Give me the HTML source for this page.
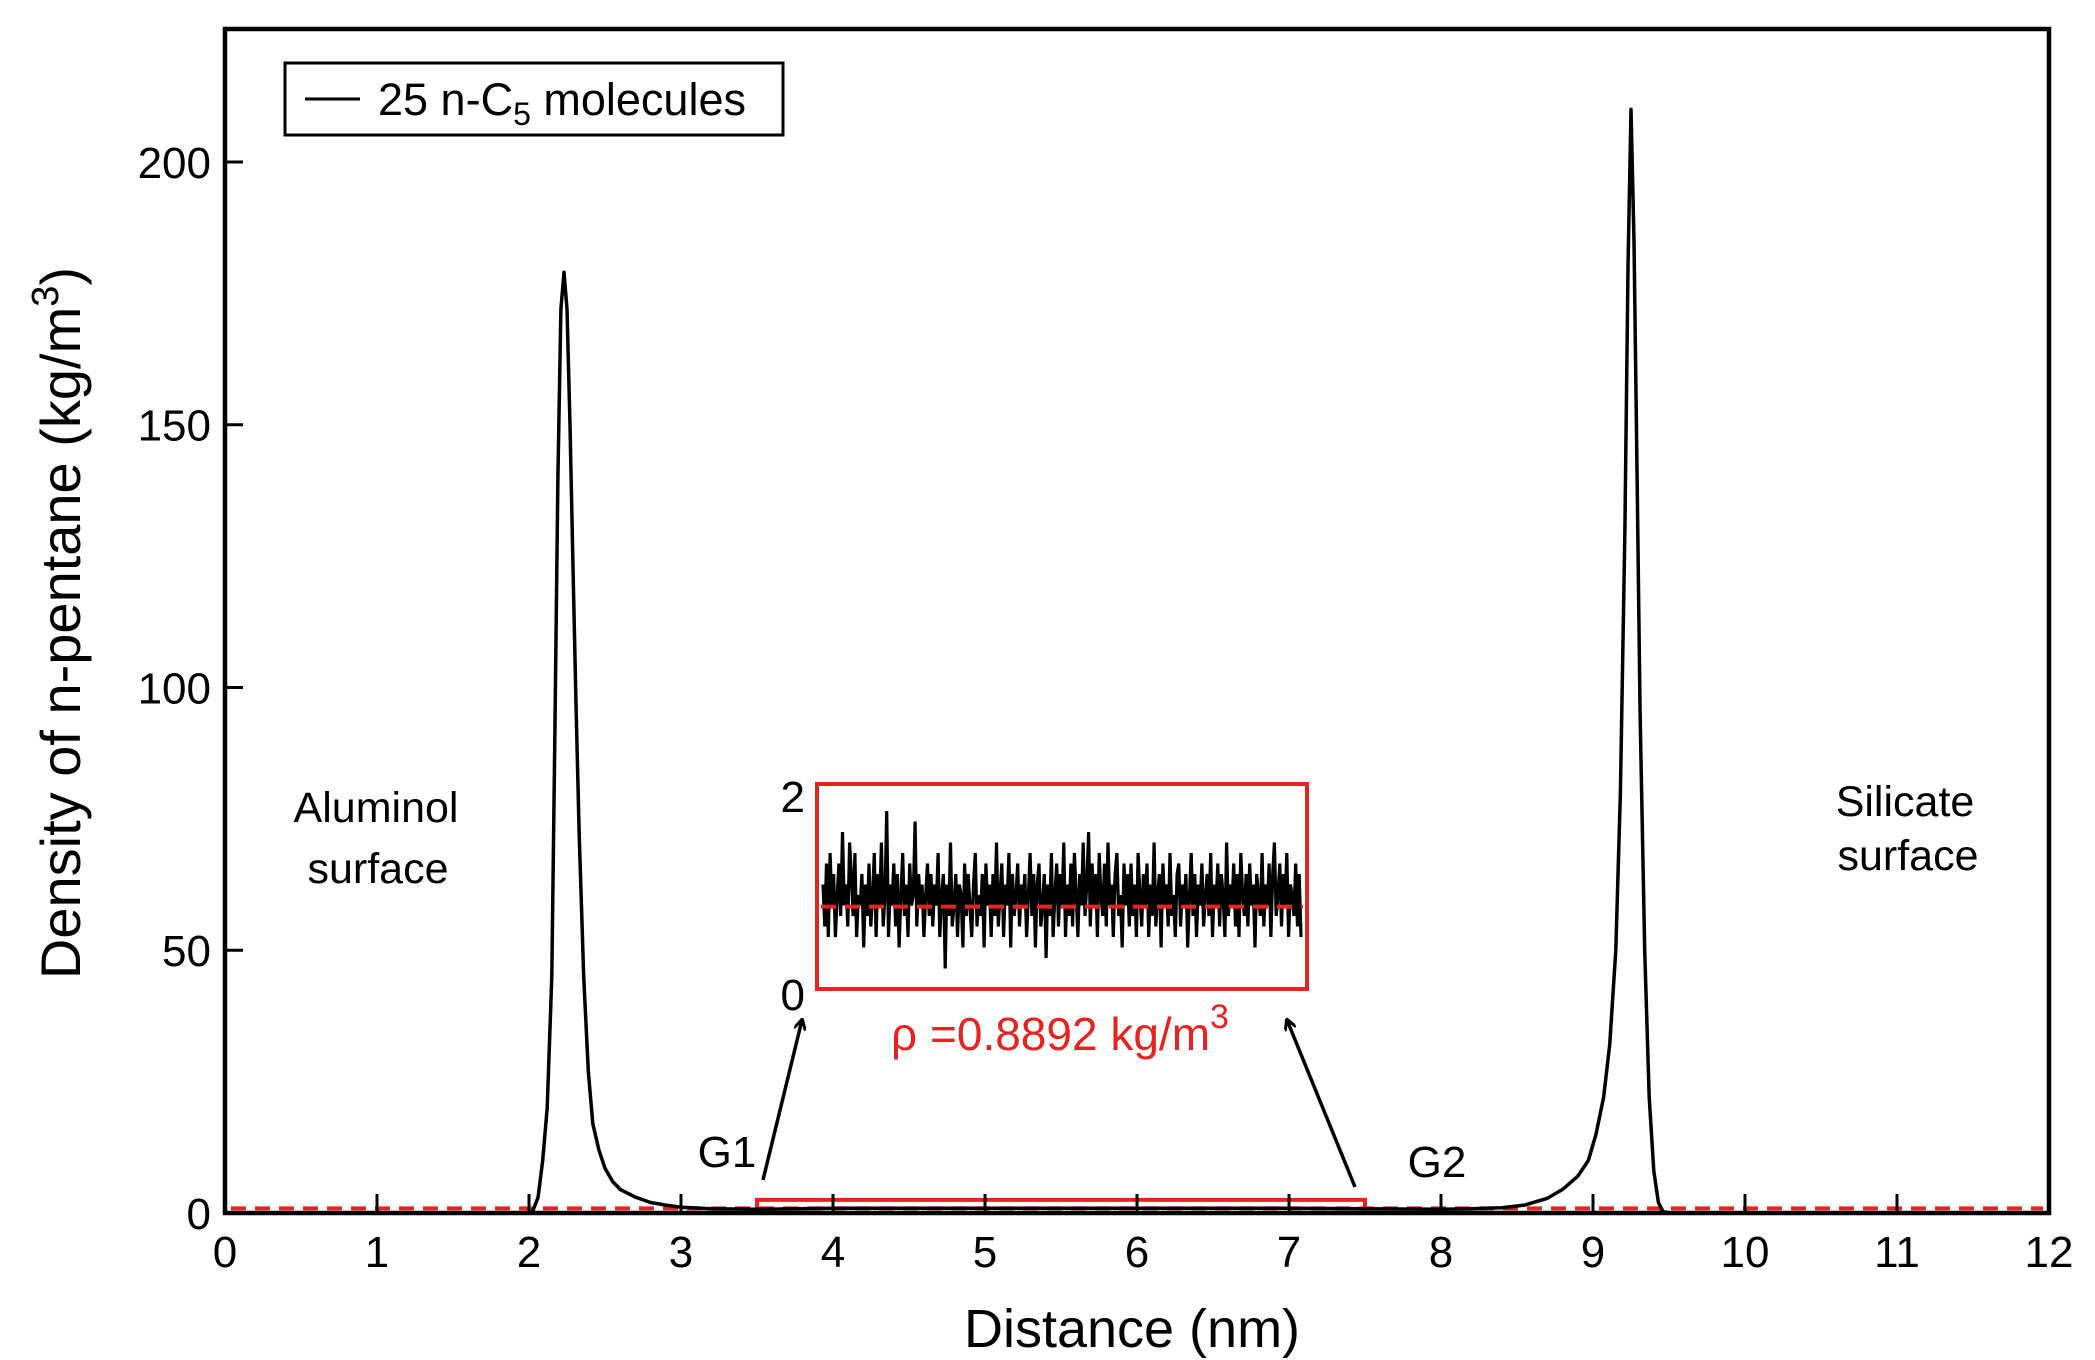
<!DOCTYPE html>
<html><head><meta charset="utf-8"><style>
html,body{margin:0;padding:0;background:#fff;}
svg{display:block;font-family:"Liberation Sans",sans-serif;}
</style></head><body>
<svg id="chart" width="2095" height="1360" viewBox="0 0 2095 1360" xmlns="http://www.w3.org/2000/svg">
<g id="marks"></g>
<g id="axes"></g>
<text x="1132" y="1347" font-size="54" text-anchor="middle">Distance (nm)</text>
<text transform="translate(80,623) rotate(-90)" font-size="56" text-anchor="middle">Density  of n-pentane (kg/m<tspan dy="-22" font-size="38">3</tspan><tspan dy="22">)</tspan></text>
<g>
<rect x="285" y="63" width="498" height="72" fill="#fff" stroke="#000" stroke-width="3"/>
<line x1="305" y1="99" x2="360" y2="99" stroke="#000" stroke-width="3"/>
<text x="378" y="115" font-size="45">25 n-C<tspan dy="10" font-size="32">5</tspan><tspan dy="-10"> molecules</tspan></text>
</g>
<text x="376" y="822" font-size="43" text-anchor="middle">Aluminol</text>
<text x="378" y="883" font-size="43" text-anchor="middle">surface</text>
<text x="1905" y="816" font-size="43" text-anchor="middle">Silicate</text>
<text x="1908" y="870" font-size="43" text-anchor="middle">surface</text>
<text x="727" y="1167" font-size="44" text-anchor="middle">G1</text>
<text x="1437" y="1177" font-size="44" text-anchor="middle">G2</text>
<defs><marker id="ah" markerWidth="12" markerHeight="12" refX="10" refY="6" orient="auto" markerUnits="userSpaceOnUse"><path d="M0,0 L11,6 L0,12" fill="none" stroke="#000" stroke-width="3"/></marker></defs>
<line x1="763" y1="1180" x2="802" y2="1020" stroke="#000" stroke-width="3.5" marker-end="url(#ah)"/>
<line x1="1355" y1="1187" x2="1287" y2="1020" stroke="#000" stroke-width="3.5" marker-end="url(#ah)"/>
<text x="1060" y="1050" font-size="46" fill="#e52320" text-anchor="middle">ρ =0.8892 kg/m<tspan dy="-22" font-size="34">3</tspan></text>
<g id="inset"></g>
</svg>
<script>
const xTicks=[0,1,2,3,4,5,6,7,8,9,10,11,12];
const yTicks=[0,50,100,150,200];
const profileX=[0,2.02,2.06,2.09,2.12,2.15,2.17,2.19,2.21,2.23,2.25,2.27,2.29,2.31,2.33,2.36,2.39,2.42,2.46,2.5,2.55,2.6,2.7,2.8,2.9,3.0,3.2,3.5,4,5,6,7,7.5,8,8.2,8.4,8.55,8.7,8.8,8.9,8.97,9.02,9.07,9.11,9.15,9.18,9.21,9.23,9.25,9.27,9.29,9.31,9.34,9.37,9.4,9.43,9.46,9.5,10,12];
const profileY=[0,0,3,10,20,45,90,140,172,179,172,150,122,96,72,45,27,17,12,8.5,6,4.5,3,2,1.5,1.1,0.8,0.7,0.9,0.9,0.9,0.9,0.8,0.7,0.8,1.0,1.5,2.8,4.5,7,10,15,22,32,50,80,130,180,210,185,140,95,50,22,8,2,0.3,0,0,0];
const meanDensity=0.8892;
const gapStart=3.5, gapEnd=7.5;
const insetTicks=[0,2];
const insetNoise=[1.1,0.7,1.3,0.6,1.4,0.9,1.2,0.6,1.0,1.3,0.8,1.6,0.9,1.1,0.7,1.5,1.2,0.8,1.4,0.6,1.0,0.9,1.2,0.5,1.1,0.8,1.3,0.7,1.0,1.4,0.6,1.2,0.9,1.5,0.7,1.0,1.8,0.6,1.1,0.9,1.3,0.7,1.2,0.5,1.0,1.4,0.8,1.1,0.6,1.3,0.9,1.0,1.7,0.7,1.2,0.9,1.1,0.6,1.0,1.3,0.8,1.2,0.7,1.1,0.9,1.4,0.6,1.0,1.2,0.3,1.1,0.8,1.5,0.7,0.9,1.2,0.6,1.1,1.0,0.5,1.3,0.8,1.2,0.9,0.6,1.1,1.4,0.7,1.0,0.8,1.2,0.5,1.3,0.9,1.1,0.6,1.2,0.8,1.5,0.7,1.0,1.3,0.6,1.1,0.9,1.4,0.5,1.2,0.8,1.0,1.3,0.7,1.1,0.9,1.2,0.6,1.0,1.4,0.8,1.2,0.5,1.1,1.3,0.7,0.9,1.2,0.4,1.1,0.8,1.4,0.6,1.0,1.3,0.7,1.2,0.9,1.5,0.6,1.1,0.8,1.3,0.7,1.4,1.0,0.6,1.2,0.9,1.5,0.8,1.1,1.6,0.7,1.3,0.9,1.2,0.6,1.4,1.0,0.8,1.3,0.7,1.5,0.9,1.1,0.6,1.2,1.4,0.8,1.0,0.5,1.3,
0.9,1.2,0.7,1.3,0.8,1.1,0.6,1.4,1.0,0.7,1.2,0.9,1.3,0.6,1.1,0.8,1.5,0.7,1.0,1.2,0.5,1.3,0.9,1.1,0.7,1.4,0.8,1.0,0.6,1.2,1.3,0.7,1.1,0.9,1.2,0.5,1.0,1.4,0.8,1.2,0.6,1.1,0.9,1.3,0.7,1.0,1.2,0.8,1.4,0.6,1.1,0.9,1.3,0.7,1.2,1.0,0.6,1.5,0.8,1.1,0.9,1.3,0.7,1.2,0.6,1.4,1.0,0.8,1.2,0.7,1.3,0.9,1.1,0.5,1.2,1.0,0.8,1.4,0.7,1.1,0.9,1.3,0.6,1.2,1.5,0.8,1.0,1.3,0.7,1.2,0.9,1.4,0.6,1.1,1.0,0.8,1.3,0.7,1.2,0.6];

const NS="http://www.w3.org/2000/svg";
const L=225,R=2049,T=29,B=1213,XMAX=12,YMAX=225.3;
function X(v){return L+(v/XMAX)*(R-L);}
function Y(v){return B-(v/YMAX)*(B-T);}
function mk(tag,attrs,parent){const e=document.createElementNS(NS,tag);for(const k in attrs)e.setAttribute(k,attrs[k]);parent.appendChild(e);return e;}
const marks=document.getElementById('marks'),axes=document.getElementById('axes'),inset=document.getElementById('inset');

let ml=mk('line',{x1:X(0)+6,x2:X(12)-6,y1:Y(meanDensity),y2:Y(meanDensity),stroke:'#e52320','stroke-width':4,'stroke-dasharray':'15 9'},marks);


let gb=mk('rect',{x:X(gapStart),y:Y(2.5),width:X(gapEnd)-X(gapStart),height:Y(0)-Y(2.5),fill:'none',stroke:'#e52320','stroke-width':4},marks);


let d=profileX.map((x,i)=>(i?'L':'M')+X(x).toFixed(1)+','+Y(profileY[i]).toFixed(1)).join(' ');
let pl=mk('path',{d:d,fill:'none',stroke:'#000','stroke-width':3.5,'stroke-linejoin':'round'},marks);



let fr=mk('rect',{x:L,y:T,width:R-L,height:B-T,fill:'none',stroke:'#000','stroke-width':4.5},axes);


xTicks.forEach(v=>{
  let t=mk('line',{x1:X(v),x2:X(v),y1:B,y2:B-19,stroke:'#000','stroke-width':3},axes);
  
  
  let tl=mk('text',{x:X(v),y:1267,'font-size':44,'text-anchor':'middle'},axes);
  tl.textContent=v;
  
  
});
yTicks.forEach(v=>{
  let t=mk('line',{x1:L,x2:L+18,y1:Y(v),y2:Y(v),stroke:'#000','stroke-width':3},axes);
  
  
  let tl=mk('text',{x:211,y:Y(v)+16,'font-size':44,'text-anchor':'end'},axes);
  tl.textContent=v;
  
  
});

const IL=817,IR=1307,IT=784,IB=989;
function IX(i){return IL+6+(i/(insetNoise.length-1))*(IR-IL-12);}
function IY(v){return 1000-(v/2)*210;}
let ib=mk('rect',{x:IL,y:IT,width:IR-IL,height:IB-IT,fill:'#fff',stroke:'#e52320','stroke-width':4},inset);


let nd=insetNoise.map((v,i)=>(i?'L':'M')+IX(i).toFixed(1)+','+IY(v).toFixed(1)).join(' ');
let np=mk('path',{d:nd,fill:'none',stroke:'#000','stroke-width':3.2},inset);


let im=mk('line',{x1:IL+4,x2:IR-4,y1:IY(meanDensity),y2:IY(meanDensity),stroke:'#e52320','stroke-width':4,'stroke-dasharray':'15 9'},inset);


insetTicks.forEach(v=>{
  let tl=mk('text',{x:805,y:v===0?1010:812,'font-size':44,'text-anchor':'end'},inset);
  tl.textContent=v;
  
  
});
</script>
</body></html>
